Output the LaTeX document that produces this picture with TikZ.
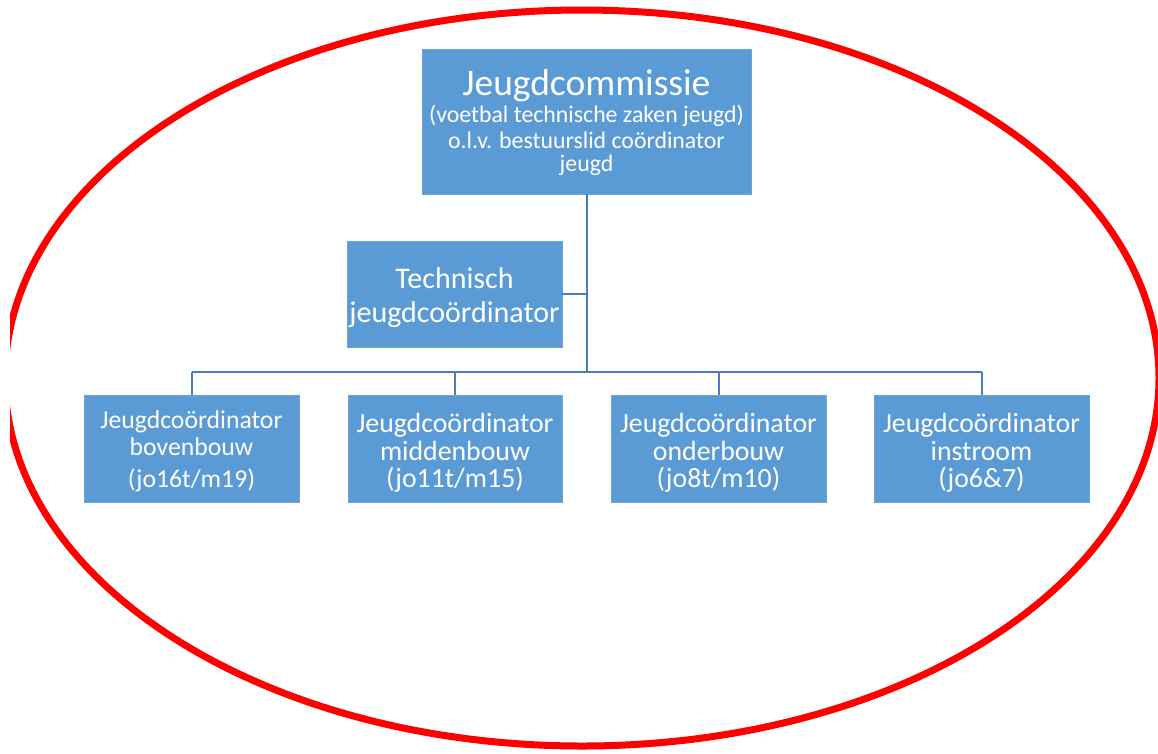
\documentclass[tikz,border=0pt]{standalone}
\usepackage{fontspec}
\setmainfont{Carlito}
\definecolor{boxblue}{HTML}{5B9BD5}
\definecolor{boxedge}{HTML}{6FA6DA}
\definecolor{linkblue}{HTML}{4A7EBB}
\begin{document}
\begin{tikzpicture}[x=1pt,y=-1pt,
  orgbox/.style={fill=boxblue,draw=boxedge,line width=0.8pt,inner sep=0pt,anchor=center},
  ln/.style={anchor=base,text=white,inner sep=0pt},
  fbig/.style={font=\fontsize{37.5}{40}\selectfont},
  fsmall/.style={font=\fontsize{23.8}{27}\selectfont},
  fmid/.style={font=\fontsize{30}{34}\selectfont},
  fbot/.style={font=\fontsize{27.8}{28}\selectfont},
  fbotA/.style={font=\fontsize{25.7}{28}\selectfont},
  link/.style={draw=linkblue,line width=2pt}]
\useasboundingbox (0,0) rectangle (1158,753);
\fill[white] (0,0) rectangle (1158,753);
\begin{scope}
\clip (10,0) rectangle (1158,753);
\draw[red,line width=7pt] (582,378) ellipse [x radius=577,y radius=368];
\end{scope}
% boxes
\node[orgbox,minimum width=329pt,minimum height=145pt] (top) at (586.5,121.5) {};
\node[orgbox,minimum width=215pt,minimum height=106pt] (tech) at (454.5,294) {};
\node[orgbox,minimum width=215pt,minimum height=107pt] (b1) at (191.5,448.5) {};
\node[orgbox,minimum width=214pt,minimum height=107pt] (b2) at (455,448.5) {};
\node[orgbox,minimum width=215pt,minimum height=107pt] (b3) at (718.5,448.5) {};
\node[orgbox,minimum width=215pt,minimum height=107pt] (b4) at (981.5,448.5) {};
% texts
\node[ln,fbig]   (t1) at (586.5,95)  {Jeugdcommissie};
\node[ln,fsmall] (t2) at (586.5,122) {(voetbal technische zaken jeugd)};
\node[ln,fsmall] (t3) at (586.5,148) {o.l.v. bestuurslid coördinator};
\node[ln,fsmall] (t4) at (586.5,171) {jeugd};
\node[ln,fmid] (tt1) at (454.5,288) {Technisch};
\node[ln,fmid] (tt2) at (454.5,322) {jeugdcoördinator};
\node[ln,fbotA] (a1) at (191.5,428) {Jeugdcoördinator};
\node[ln,fbotA] (a2) at (191.5,455) {bovenbouw};
\node[ln,fbotA] (a3) at (191.5,487) {(jo16t/m19)};
\node[ln,fbot] (c1) at (455,432) {Jeugdcoördinator};
\node[ln,fbot] (c2) at (455,460) {middenbouw};
\node[ln,fbot] (c3) at (455,487) {(jo11t/m15)};
\node[ln,fbot] (d1) at (718.5,432) {Jeugdcoördinator};
\node[ln,fbot] (d2) at (718.5,460) {onderbouw};
\node[ln,fbot] (d3) at (718.5,487) {(jo8t/m10)};
\node[ln,fbot] (e1) at (981.5,432) {Jeugdcoördinator};
\node[ln,fbot] (e2) at (981.5,460) {instroom};
\node[ln,fbot] (e3) at (981.5,487) {(jo6\&7)};
% connectors
\coordinate (busL) at (191.5,372);
\coordinate (busR) at (981.5,372);
\draw[link] (top.south) -- (top.south |- busL);
\draw[link] (tech.east) -- (tech.east -| top.south);
\draw[link] (busL) -- (busR);
\draw[link] (b1.north) -- (b1.north |- busL);
\draw[link] (b2.north) -- (b2.north |- busL);
\draw[link] (b3.north) -- (b3.north |- busL);
\draw[link] (b4.north) -- (b4.north |- busL);
\end{tikzpicture}
\end{document}
